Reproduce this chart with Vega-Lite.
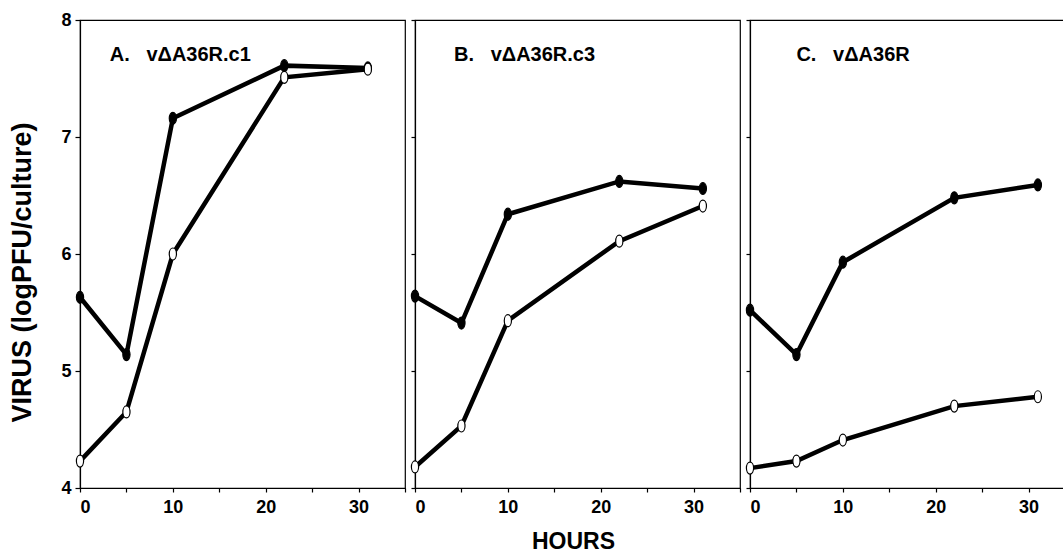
{
  "$schema": "https://vega.github.io/schema/vega-lite/v6.json",
  "autosize": {"type": "pad"},
  "padding": {"left": 7, "top": 10, "right": 0, "bottom": 0},
  "background": "white",
  "spacing": 10,
  "bounds": "flush",
  "config": {
    "font": "Liberation Sans",
    "view": {"stroke": "black", "strokeWidth": 1.2},
    "axis": {
      "domainColor": "black",
      "domainWidth": 1.2,
      "tickColor": "black",
      "tickWidth": 1.2,
      "labelColor": "black",
      "labelFont": "Liberation Sans",
      "labelFontWeight": "bold",
      "labelFontSize": 18,
      "titleFont": "Liberation Sans",
      "titleFontWeight": "bold",
      "titleColor": "black",
      "grid": false
    }
  },
  "datasets": {
    "virus": [
      {"panel": "A", "series": "filled", "hours": 0, "virus": 5.63},
      {"panel": "A", "series": "filled", "hours": 5, "virus": 5.14},
      {"panel": "A", "series": "filled", "hours": 10, "virus": 7.16},
      {"panel": "A", "series": "filled", "hours": 22, "virus": 7.61},
      {"panel": "A", "series": "filled", "hours": 31, "virus": 7.59},
      {"panel": "A", "series": "open", "hours": 0, "virus": 4.23},
      {"panel": "A", "series": "open", "hours": 5, "virus": 4.65},
      {"panel": "A", "series": "open", "hours": 10, "virus": 6.0},
      {"panel": "A", "series": "open", "hours": 22, "virus": 7.51},
      {"panel": "A", "series": "open", "hours": 31, "virus": 7.58},
      {"panel": "B", "series": "filled", "hours": 0, "virus": 5.64},
      {"panel": "B", "series": "filled", "hours": 5, "virus": 5.41},
      {"panel": "B", "series": "filled", "hours": 10, "virus": 6.34},
      {"panel": "B", "series": "filled", "hours": 22, "virus": 6.62},
      {"panel": "B", "series": "filled", "hours": 31, "virus": 6.56},
      {"panel": "B", "series": "open", "hours": 0, "virus": 4.18},
      {"panel": "B", "series": "open", "hours": 5, "virus": 4.53},
      {"panel": "B", "series": "open", "hours": 10, "virus": 5.43},
      {"panel": "B", "series": "open", "hours": 22, "virus": 6.11},
      {"panel": "B", "series": "open", "hours": 31, "virus": 6.41},
      {"panel": "C", "series": "filled", "hours": 0, "virus": 5.52},
      {"panel": "C", "series": "filled", "hours": 5, "virus": 5.14},
      {"panel": "C", "series": "filled", "hours": 10, "virus": 5.93},
      {"panel": "C", "series": "filled", "hours": 22, "virus": 6.48},
      {"panel": "C", "series": "filled", "hours": 31, "virus": 6.59},
      {"panel": "C", "series": "open", "hours": 0, "virus": 4.17},
      {"panel": "C", "series": "open", "hours": 5, "virus": 4.23},
      {"panel": "C", "series": "open", "hours": 10, "virus": 4.41},
      {"panel": "C", "series": "open", "hours": 22, "virus": 4.70},
      {"panel": "C", "series": "open", "hours": 31, "virus": 4.78}
    ]
  },
  "hconcat": [
    {
      "width": 325,
      "height": 468,
      "layer": [
        {
          "data": {"name": "virus"},
          "transform": [{"filter": "datum.panel == 'A'"}],
          "mark": {"type": "line", "color": "black", "strokeWidth": 4.5},
          "encoding": {
            "x": {"field": "hours", "type": "quantitative", "scale": {"domain": [0, 35], "nice": false},
              "axis": {"values": [0, 5, 10, 15, 20, 25, 30, 35], "labelExpr": "datum.value % 10 == 0 && datum.value < 35 ? datum.label : ''", "tickSize": 4, "labelPadding": 6, "title": null}},
            "y": {"field": "virus", "type": "quantitative", "scale": {"domain": [4, 8], "nice": false},
              "axis": {"values": [4, 5, 6, 7, 8], "format": "d", "tickSize": 5, "labelPadding": 4, "title": "VIRUS (logPFU/culture)", "titleFontSize": 27, "titleX": -44, "titleY": 252}},
            "detail": {"field": "series"}
          }
        },
        {
          "data": {"name": "virus"},
          "transform": [{"filter": "datum.panel == 'A'"}],
          "mark": {"type": "point", "shape": "M0,-1A0.6,1 0 1,1 0,1A0.6,1 0 1,1 0,-1Z", "size": 144, "filled": true, "stroke": "black", "strokeWidth": 1.2, "opacity": 1},
          "encoding": {
            "x": {"field": "hours", "type": "quantitative"},
            "y": {"field": "virus", "type": "quantitative"},
            "fill": {"field": "series", "type": "nominal", "scale": {"domain": ["filled", "open"], "range": ["black", "white"]}, "legend": null}
          }
        },
        {
          "data": {"values": [{"label": "A.\u00a0\u00a0\u00a0vΔA36R.c1"}]},
          "mark": {"type": "text", "align": "left", "baseline": "middle", "fontSize": 20, "fontWeight": "bold", "font": "Liberation Sans", "color": "black"},
          "encoding": {
            "x": {"datum": 3.2},
            "y": {"datum": 7.7},
            "text": {"field": "label"}
          }
        }
      ]
    },
    {
      "width": 325,
      "height": 468,
      "layer": [
        {
          "data": {"name": "virus"},
          "transform": [{"filter": "datum.panel == 'B'"}],
          "mark": {"type": "line", "color": "black", "strokeWidth": 4.5},
          "encoding": {
            "x": {"field": "hours", "type": "quantitative", "scale": {"domain": [0, 35], "nice": false},
              "axis": {"values": [0, 5, 10, 15, 20, 25, 30, 35], "labelExpr": "datum.value % 10 == 0 && datum.value < 35 ? datum.label : ''", "tickSize": 4, "labelPadding": 6, "title": "HOURS", "titleFontSize": 23, "titleX": 158, "titleY": 42}},
            "y": {"field": "virus", "type": "quantitative", "scale": {"domain": [4, 8], "nice": false},
              "axis": {"values": [4, 5, 6, 7, 8], "tickSize": 4, "labels": false, "title": null}},
            "detail": {"field": "series"}
          }
        },
        {
          "data": {"name": "virus"},
          "transform": [{"filter": "datum.panel == 'B'"}],
          "mark": {"type": "point", "shape": "M0,-1A0.6,1 0 1,1 0,1A0.6,1 0 1,1 0,-1Z", "size": 144, "filled": true, "stroke": "black", "strokeWidth": 1.2, "opacity": 1},
          "encoding": {
            "x": {"field": "hours", "type": "quantitative"},
            "y": {"field": "virus", "type": "quantitative"},
            "fill": {"field": "series", "type": "nominal", "scale": {"domain": ["filled", "open"], "range": ["black", "white"]}, "legend": null}
          }
        },
        {
          "data": {"values": [{"label": "B.\u00a0\u00a0\u00a0vΔA36R.c3"}]},
          "mark": {"type": "text", "align": "left", "baseline": "middle", "fontSize": 20, "fontWeight": "bold", "font": "Liberation Sans", "color": "black"},
          "encoding": {
            "x": {"datum": 4.2},
            "y": {"datum": 7.7},
            "text": {"field": "label"}
          }
        }
      ]
    },
    {
      "width": 325,
      "height": 468,
      "layer": [
        {
          "data": {"name": "virus"},
          "transform": [{"filter": "datum.panel == 'C'"}],
          "mark": {"type": "line", "color": "black", "strokeWidth": 4.5},
          "encoding": {
            "x": {"field": "hours", "type": "quantitative", "scale": {"domain": [0, 35], "nice": false},
              "axis": {"values": [0, 5, 10, 15, 20, 25, 30, 35], "labelExpr": "datum.value % 10 == 0 && datum.value < 35 ? datum.label : ''", "tickSize": 4, "labelPadding": 6, "title": null}},
            "y": {"field": "virus", "type": "quantitative", "scale": {"domain": [4, 8], "nice": false},
              "axis": {"values": [4, 5, 6, 7, 8], "tickSize": 4, "labels": false, "title": null}},
            "detail": {"field": "series"}
          }
        },
        {
          "data": {"name": "virus"},
          "transform": [{"filter": "datum.panel == 'C'"}],
          "mark": {"type": "point", "shape": "M0,-1A0.6,1 0 1,1 0,1A0.6,1 0 1,1 0,-1Z", "size": 144, "filled": true, "stroke": "black", "strokeWidth": 1.2, "opacity": 1},
          "encoding": {
            "x": {"field": "hours", "type": "quantitative"},
            "y": {"field": "virus", "type": "quantitative"},
            "fill": {"field": "series", "type": "nominal", "scale": {"domain": ["filled", "open"], "range": ["black", "white"]}, "legend": null}
          }
        },
        {
          "data": {"values": [{"label": "C.\u00a0\u00a0\u00a0vΔA36R"}]},
          "mark": {"type": "text", "align": "left", "baseline": "middle", "fontSize": 20, "fontWeight": "bold", "font": "Liberation Sans", "color": "black"},
          "encoding": {
            "x": {"datum": 5.0},
            "y": {"datum": 7.7},
            "text": {"field": "label"}
          }
        }
      ]
    }
  ]
}
